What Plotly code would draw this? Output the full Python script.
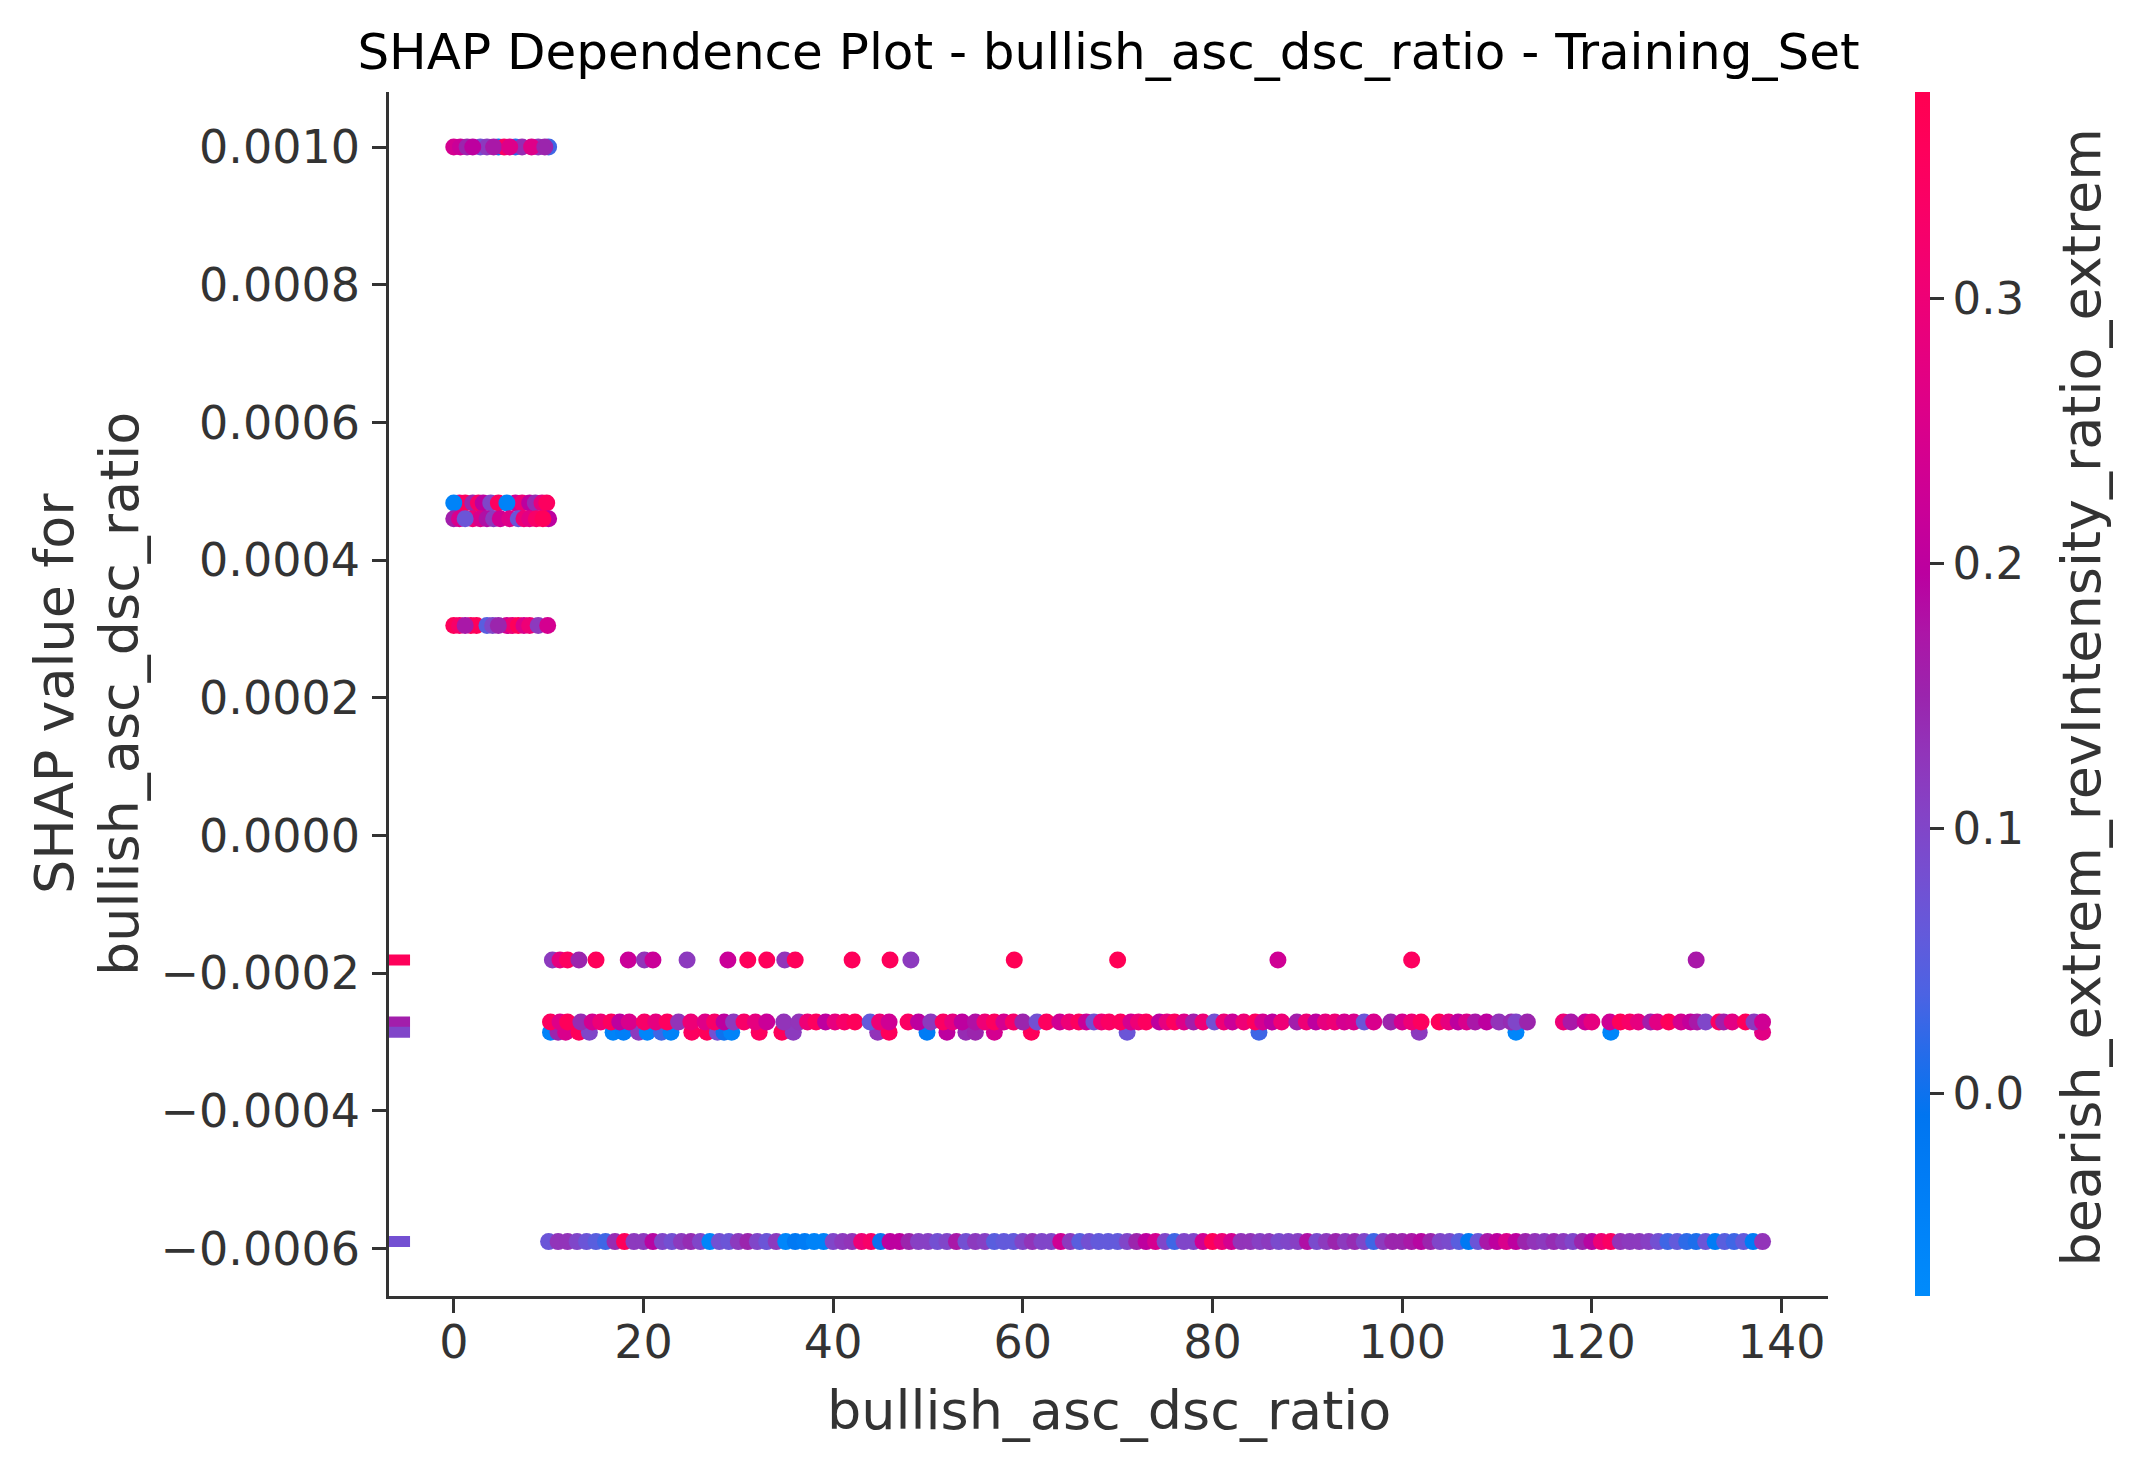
import math
import plotly.graph_objects as go

# SHAP value levels (y) of each horizontal band
y_top = 0.0010
y_mid_a = 0.000483
y_mid_b = 0.000460
y_low = 0.000305
y_n1 = -0.000181
y_n2 = -0.000271
y_n3 = -0.000286
y_n4 = -0.000590

# feature value (x) and colour feature value (c) per band
top_x = [0, 0.7, 1.4, 2.8, 3.5, 4.7, 5.3, 6.5, 7.2, 8.9, 10, 2, 4.2, 5.9, 8.2, 9.6]
top_c = [0.24, 0.22, 0.15, 0.08, 0.12, 0.0, 0.34, 0.02, 0.14, 0.13, 0.03, 0.2, 0.17, 0.26, 0.26, 0.15]

mid_a_x = [0.6, 1.2, 2, 2.6, 3.1, 3.9, 4.7, 6.5, 7.2, 8, 8.6, 9.3, 9.8, 0, 5.6]
mid_a_c = [0.3, 0.35, 0.15, 0.33, 0.2, 0.1, 0.35, 0.23, 0.3, 0.2, 0.14, 0.28, 0.35, -0.05, -0.05]

mid_b_x = [0, 0.6, 2, 2.8, 3.5, 4.2, 4.9, 5.9, 6.8, 7.4, 8, 8.7, 10, 9.4, 1.2]
mid_b_c = [0.16, 0.25, 0.3, 0.25, 0.18, 0.12, 0.23, 0.26, 0.07, 0.3, 0.27, 0.33, 0.2, 0.36, 0.07]

low_x = [0, 0.6, 1.8, 2.4, 3.5, 4.1, 5.6, 6.2, 6.8, 7.4, 8, 8.9, 9.9, 1.2, 4.7]
low_c = [0.36, 0.33, 0.35, 0.36, 0.05, 0.1, 0.24, 0.3, 0.36, 0.25, 0.3, 0.12, 0.24, 0.17, 0.15]

n1_x = [10.4, 11.2, 12, 13.2, 15, 18.4, 20.1, 21, 24.6, 28.9, 31, 33, 34.9, 36,
        42, 46, 48.2, 59.1, 70, 86.9, 101, 131]
n1_c = [0.12, 0.28, 0.35, 0.15, 0.36, 0.22, 0.13, 0.22, 0.12, 0.22, 0.36, 0.36, 0.13, 0.36,
        0.36, 0.36, 0.12, 0.37, 0.37, 0.23, 0.35, 0.17]

n2_x = [10.2, 11.2, 12, 13.4, 14.6, 15.5, 16.6, 17.5, 18.5, 20.1, 21.3, 22.5, 23.7, 25,
        26.5, 27.5, 28.5, 29.5, 30.6, 31.8, 33, 34.8, 36.4, 37.3, 38.2, 39.2, 40.2, 41.2,
        42.3, 43.9, 44.9, 45.9, 47.9, 49, 50.3, 51.6, 52.6, 53.6, 55, 56, 57, 58, 59, 60, 61.5,
        62.5, 63.9, 64.9, 65.9, 66.7, 67.5, 68.3, 69.1, 70.3, 71.4, 72.2, 73, 74.4, 75.2, 76,
        77, 78, 79, 80.2, 81.2, 82.1, 83.3, 84.5, 85.3, 86.3, 87.3, 88.9, 89.9, 90.9, 91.9,
        92.9, 93.9, 94.9, 96, 97, 98.8, 100, 101, 102, 103.9, 104.9, 105.9, 106.8, 107.7,
        108.9, 110.2, 111.5, 112, 113.2, 117, 117.8, 119.3, 120, 121.9, 123, 124, 124.9,
        126.2, 126.9, 128.1, 129.4, 130.4, 131.1, 132, 133.4, 133.9, 134.8, 136.2, 137.1, 138]
n2_c = [0.35, 0.26, 0.36, 0.14, 0.24, 0.3, 0.35, 0.2, 0.25, 0.33, 0.28, 0.35, 0.13, 0.3,
        0.26, 0.33, 0.2, 0.12, 0.33, 0.28, 0.22, 0.13, 0.13, 0.3, 0.35, 0.2, 0.28, 0.33,
        0.36, 0.06, 0.3, 0.23, 0.34, 0.2, 0.12, 0.34, 0.28, 0.2, 0.18, 0.3, 0.35, 0.24, 0.33,
        0.15, 0.08, 0.35, 0.23, 0.3, 0.35, 0.22, 0.08, 0.3, 0.34, 0.35, 0.24, 0.3, 0.35, 0.2,
        0.28, 0.35, 0.26, 0.16, 0.3, 0.08, 0.3, 0.22, 0.3, 0.35, 0.24, 0.2, 0.3, 0.16, 0.3,
        0.2, 0.28, 0.3, 0.24, 0.25, 0.07, 0.25, 0.15, 0.24, 0.3, 0.35, 0.36, 0.28, 0.2, 0.25,
        0.17, 0.2, 0.13, 0.14, 0.1, 0.15, 0.3, 0.17, 0.22, 0.28, 0.23, 0.36, 0.33, 0.28,
        0.16, 0.27, 0.36, 0.24, 0.21, 0.17, 0.1, 0.34, 0.16, 0.27, 0.36, 0.12, 0.23]

n3_x = [10.2, 11, 11.8, 13.2, 14.3, 16.8, 17.9, 19.5, 20.4, 21.9, 22.9, 25.1, 26.7, 27.8,
        28.5, 29.3, 32.2, 34.6, 35.8, 44.7, 45.9, 49.9, 52, 54, 55, 57, 60.9, 71, 84.9,
        101.8, 112, 122, 138]
n3_c = [-0.05, 0.15, 0.25, 0.36, 0.1, -0.05, -0.04, 0.12, -0.06, 0.03, -0.05, 0.35, 0.36, 0.08,
        0.0, -0.05, 0.35, 0.36, 0.12, 0.13, 0.36, -0.03, 0.2, 0.14, 0.15, 0.24, 0.36, 0.07, 0.03,
        0.12, -0.06, -0.06, 0.27]

n4_x = list(range(10, 139))
n4_c = [0.07, 0.13, 0.13, 0.1, 0.07, 0.05, 0.03, 0.14, 0.36, 0.12,   # 10-19
        0.12, 0.19, 0.1, 0.08, 0.12, 0.14, 0.1, -0.06, 0.08, 0.07,    # 20-29
        0.12, 0.15, 0.1, 0.07, 0.12, -0.06, -0.02, -0.03, -0.05, -0.05,  # 30-39
        0.1, 0.12, 0.13, 0.3, 0.33, 0.0, 0.2, 0.2, 0.15, 0.11,        # 40-49
        0.11, 0.08, 0.1, 0.17, 0.08, 0.12, 0.11, 0.05, 0.06, 0.06,    # 50-59
        0.1, 0.13, 0.1, 0.1, 0.23, 0.12, 0.05, 0.08, 0.06, 0.06,      # 60-69
        0.06, 0.1, 0.15, 0.2, 0.24, 0.1, 0.03, 0.1, 0.1, 0.23,        # 70-79
        0.36, 0.3, 0.24, 0.13, 0.13, 0.11, 0.12, 0.09, 0.1, 0.11,     # 80-89
        0.18, 0.09, 0.12, 0.15, 0.12, 0.14, 0.1, 0.03, 0.12, 0.15,    # 90-99
        0.15, 0.17, 0.19, 0.15, 0.1, 0.09, 0.05, -0.02, 0.07, 0.17,   # 100-109
        0.2, 0.25, 0.2, 0.15, 0.13, 0.12, 0.14, 0.12, 0.1, 0.15,      # 110-119
        0.19, 0.3, 0.34, 0.13, 0.12, 0.12, 0.11, 0.08, 0.03, 0.06,    # 120-129
        0.02, 0.01, 0.07, -0.03, 0.05, 0.03, 0.06, -0.03, 0.13]       # 130-138

# rows with a missing feature value (drawn left of the axis)
nan_y = [y_n1, y_n2, y_n3, y_n4]
nan_c = [0.36, 0.16, 0.1, 0.08]

c_min, c_max = -0.0764, 0.378


def lch2rgb(l, c, h):
    a, b = c * math.cos(h), c * math.sin(h)
    fy = (l + 16) / 116
    fx, fz = fy + a / 500, fy - b / 200

    def finv(t):
        return t ** 3 if t ** 3 > 0.008856 else (t - 16 / 116) / 7.787
    X, Y, Z = 0.95047 * finv(fx), finv(fy), 1.08883 * finv(fz)
    lin = [3.2406 * X - 1.5372 * Y - 0.4986 * Z,
           -0.9689 * X + 1.8758 * Y + 0.0415 * Z,
           0.0557 * X - 0.2040 * Y + 1.0570 * Z]
    out = []
    for v in lin:
        v = 1.055 * v ** (1 / 2.4) - 0.055 if v > 0.0031308 else 12.92 * v
        out.append(int(round(min(max(v, 0), 1) * 255)))
    return "rgb(%d,%d,%d)" % tuple(out)


# shap red_blue colormap
steps = 21
shap_cs = []
for i in range(steps):
    t = i / (steps - 1)
    l = 54 - 28 * t if t <= 0.5 else 40 + 28 * (t - 0.5)
    c = 70 + 20 * t
    h = 4.6588 + (0.35470565 + 2 * math.pi - 4.6588) * t
    shap_cs.append([t, lch2rgb(l, c, h)])

xs, ys, cs = [], [], []
for bx, bc, by in [(top_x, top_c, y_top), (mid_a_x, mid_a_c, y_mid_a), (mid_b_x, mid_b_c, y_mid_b),
                   (low_x, low_c, y_low), (n4_x, n4_c, y_n4), (n3_x, n3_c, y_n3),
                   (n2_x, n2_c, y_n2), (n1_x, n1_c, y_n1)]:
    assert len(bx) == len(bc)
    xs += bx
    ys += [by] * len(bx)
    cs += bc

nan_x = min(xs) - (max(xs) - min(xs)) / 20

grey = "#333333"
font = "DejaVu Sans"

fig = go.Figure()

fig.add_trace(go.Scatter(
    x=xs, y=ys, mode="markers", showlegend=False, hoverinfo="skip",
    marker=dict(size=17, color=cs, colorscale=shap_cs, cmin=c_min, cmax=c_max,
                line=dict(width=0),
                colorbar=dict(x=1.0605, xanchor="left", xpad=0, y=0.5, yanchor="middle",
                              ypad=0, len=1, thickness=15, outlinewidth=0,
                              tickvals=[0, 0.1, 0.2, 0.3], ticktext=["0.0", "0.1", "0.2", "0.3"],
                              ticks="outside", ticklen=14, tickwidth=2.5, tickcolor=grey,
                              tickfont=dict(family=font, size=45, color=grey))),
))

fig.add_trace(go.Scatter(
    x=[nan_x] * len(nan_y), y=nan_y, mode="markers", showlegend=False, hoverinfo="skip",
    marker=dict(symbol="line-ew", size=31,
                line=dict(width=11, color=nan_c, colorscale=shap_cs, cmin=c_min, cmax=c_max)),
))

axis_common = dict(showgrid=False, zeroline=False, showline=True, linecolor=grey, linewidth=2.5,
                   ticks="outside", ticklen=14, tickwidth=2.5, tickcolor=grey,
                   tickfont=dict(family=font, size=46, color=grey))

fig.update_xaxes(range=[-6.83, 144.9], tickvals=[0, 20, 40, 60, 80, 100, 120, 140],
                 ticklabelstandoff=-10, **axis_common)
fig.update_yaxes(range=[-0.000669, 0.00108],
                 tickvals=[-0.0006, -0.0004, -0.0002, 0.0, 0.0002, 0.0004, 0.0006, 0.0008, 0.0010],
                 tickformat=".4f", ticklabelstandoff=3, **axis_common)

fig.update_layout(
    width=2118, height=1455,
    margin=dict(l=381, r=298, t=84, b=167),
    paper_bgcolor="white", plot_bgcolor="white",
    font=dict(family=font, color=grey),
    title=dict(text="SHAP Dependence Plot - bullish_asc_dsc_ratio - Training_Set",
               x=0.5, xref="paper", xanchor="center", y=1 - 43 / 1455, yanchor="middle",
               font=dict(family=font, size=50, color="black")),
    annotations=[
        dict(text="bullish_asc_dsc_ratio", xref="paper", yref="paper", x=0.5, y=-0.0947,
             xanchor="center", yanchor="middle", showarrow=False,
             font=dict(family=font, size=54, color=grey)),
        dict(text="SHAP value for", xref="paper", yref="paper",
             x=-0.2328, y=0.5, xanchor="center", yanchor="middle", showarrow=False,
             textangle=-90, font=dict(family=font, size=54, color=grey)),
        dict(text="bullish_asc_dsc_ratio", xref="paper", yref="paper",
             x=-0.1876, y=0.5, xanchor="center", yanchor="middle", showarrow=False,
             textangle=-90, font=dict(family=font, size=54, color=grey)),
        dict(text="bearish_extrem_revIntensity_ratio_extrem", xref="paper", yref="paper",
             x=1.1765, y=0.497, xanchor="center", yanchor="middle", showarrow=False,
             textangle=-90, font=dict(family=font, size=54, color=grey)),
    ],
)

fig.write_html("out.html")
